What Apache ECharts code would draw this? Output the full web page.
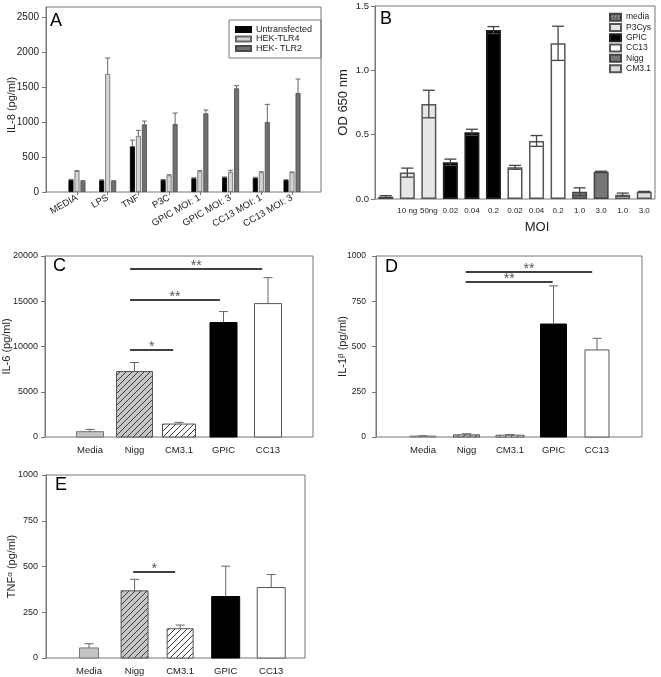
<!DOCTYPE html>
<html><head><meta charset="utf-8">
<script src="https://cdn.jsdelivr.net/npm/echarts@6/dist/echarts.min.js"></script>
<style>html,body{margin:0;padding:0;background:#fff}#c{width:661px;height:677px}</style>
</head><body><div id="c"></div>
<script>
// ================= DATA =================
// Panel A
const catsA = ['MEDIA','LPS','TNF','P3C','GPIC MOI: 1','GPIC MOI: 3','CC13 MOI: 1','CC13 MOI: 3'];
const untransfected    = [171, 167, 652, 171, 195, 210, 200, 171];
const untransfectedErr = [10, 8, 90, 8, 8, 5, 10, 5];
const hekTlr4    = [300, 1686, 800, 238, 295, 286, 281, 281];
const hekTlr4Err = [5, 228, 81, 8, 10, 24, 8, 5];
const hekTlr2    = [157, 157, 965, 971, 1124, 1481, 1000, 1414];
const hekTlr2Err = [5, 5, 48, 157, 48, 38, 252, 200];
const ticksA = [0, 500, 1000, 1500, 2000, 2500];
const maxA = 2643;

// Panel B
const catsB = ['', '10 ng', '50ng', '0.02', '0.04', '0.2', '0.02', '0.04', '0.2', '1.0', '3.0', '1.0', '3.0'];
const groupsB = ['media', 'P3Cys', 'GPIC', 'CC13', 'Nigg', 'CM3.1'];
const groupOfB = [0, 1, 1, 2, 2, 2, 3, 3, 3, 4, 4, 5, 5];
const odB    = [0.018, 0.205, 0.738, 0.285, 0.518, 1.313, 0.246, 0.451, 1.210, 0.057, 0.212, 0.034, 0.057];
const odBErr = [0.008, 0.035, 0.107, 0.025, 0.024, 0.027, 0.015, 0.042, 0.133, 0.030, 0.004, 0.012, 0.002];
const ticksB = [0, 0.5, 1.0, 1.5];

// Panels C, D, E
const catsCDE = ['Media', 'Nigg', 'CM3.1', 'GPIC', 'CC13'];
const il6    = [590, 7240, 1430, 12650, 14740];
const il6Err = [250, 990, 190, 1210, 2870];
const ticksC = [0, 5000, 10000, 15000, 20000];
const il1b    = [5, 12, 10, 624, 481];
const il1bErr = [2, 6, 4, 211, 64];
const ticksD = [0, 250, 500, 750, 1000];
const tnfa    = [55, 367, 160, 336, 385];
const tnfaErr = [23, 63, 20, 166, 71];
const ticksE = [0, 250, 500, 750, 1000];

// significance annotations (category-index positions, value level)
const sigC = [{from: 0.9, to: 3.87, y: 18560, text: '**'}, {from: 0.9, to: 2.92, y: 15140, text: '**'}, {from: 0.9, to: 1.87, y: 9610, text: '*'}];
const sigD = [{from: 0.98, to: 3.89, y: 912, text: '**'}, {from: 0.98, to: 2.98, y: 856, text: '**'}];
const sigE = [{from: 0.97, to: 1.89, y: 470, text: '*'}];

// ================= STYLE =================
const FONT = '"Liberation Sans", Arial, sans-serif';
const AX = '#777';
function hatch(bg, fg, s, lw) {
  const c = document.createElement('canvas'); c.width = s; c.height = s;
  const g = c.getContext('2d'); g.fillStyle = bg; g.fillRect(0, 0, s, s);
  g.strokeStyle = fg; g.lineWidth = lw || 1; g.beginPath();
  for (const o of [-s, 0, s]) { g.moveTo(o, s); g.lineTo(o + s, 0); }
  g.stroke(); return c;
}
function cross(bg, fg, s) {
  const c = document.createElement('canvas'); c.width = s; c.height = s;
  const g = c.getContext('2d'); g.fillStyle = bg; g.fillRect(0, 0, s, s);
  g.fillStyle = fg; g.fillRect(0, 0, 1, 1); g.fillRect(Math.floor(s/2), Math.floor(s/2), 1, 1);
  return c;
}
function pat(c) { return {type: 'pattern', image: c, repeat: 'repeat'}; }
const hatchGray = pat(hatch('#c6c6c6', '#3a3a3a', 6, 1));
const hatchWhite = pat(hatch('#ffffff', '#3a3a3a', 6, 1));
const crossDark = pat(cross('#858585', '#333', 3));

const stylesCDE = [
  {fill: '#c4c4c4', stroke: '#777'},
  {fill: hatchGray, stroke: '#555'},
  {fill: hatchWhite, stroke: '#555'},
  {fill: '#000', stroke: '#000'},
  {fill: '#fff', stroke: '#555'}
];
const widthC = [27, 36, 33, 27, 27];
const widthD = [26, 26, 28, 26, 24];
const widthE = [19, 27, 26, 28, 28];

const groupStyleB = [
  {color: crossDark, borderColor: '#444'},
  {color: '#e6e6e6', borderColor: '#555'},
  {color: '#000', borderColor: '#222'},
  {color: '#fff', borderColor: '#555'},
  {color: '#777', borderColor: '#444'},
  {color: '#dcdcdc', borderColor: '#555'}
];

// ================= HELPERS =================
function frameGrid(l, t, r, b) {
  return {left: l, top: t, right: r, bottom: b, show: true, borderColor: AX, borderWidth: 1, backgroundColor: 'transparent', containLabel: false, outerBoundsMode: 'none'};
}
function innerGrid(l, t, r, b) {
  return {left: l, top: t, right: r, bottom: b, show: false, containLabel: false, outerBoundsMode: 'none'};
}
function yFrame(gi, max, ticks, fmt, name, gap, nts, margin, fs) {
  return {
    gridIndex: gi, type: 'value', min: 0, max: max, interval: ticks[1] - ticks[0],
    axisLine: {show: true, lineStyle: {color: AX}},
    axisTick: {show: true, length: 4, lineStyle: {color: AX}, customValues: ticks},
    axisLabel: {customValues: ticks, formatter: fmt, fontSize: fs || 10, color: '#222', fontFamily: FONT, margin: margin || 7, showMaxLabel: true},
    splitLine: {show: false},
    name: name, nameLocation: 'middle', nameGap: gap, nameMoveOverlap: false,
    nameTextStyle: Object.assign({fontSize: 11, color: '#222', fontFamily: FONT}, nts || {})
  };
}
function yHidden(gi, max) { return {gridIndex: gi, type: 'value', min: 0, max: max, show: false}; }
function xHidden(gi) { return {gridIndex: gi, type: 'value', min: 0, max: 1, show: false}; }
function xCat(gi, cats, extra) {
  return Object.assign({
    gridIndex: gi, type: 'category', data: cats, boundaryGap: true,
    axisLine: {show: false}, axisTick: {show: false},
    axisLabel: {interval: 0, fontSize: 9.5, color: '#222', fontFamily: FONT, margin: 8},
    splitLine: {show: false}
  }, extra || {});
}
function barRender(widths, styles) {
  return function (params, api) {
    const i = api.value(0), v = api.value(1);
    const top = api.coord([i, v]), base = api.coord([i, 0]);
    const w = widths[i], st = styles[i];
    return {type: 'rect', shape: {x: top[0] - w / 2, y: top[1], width: w, height: base[1] - top[1]},
      style: {fill: st.fill, stroke: st.stroke, lineWidth: 1}};
  };
}
function errRender(offset, cap, both, color, lw) {
  return function (params, api) {
    const i = api.value(0), v = api.value(1), e = api.value(2);
    const c = api.coord([i, v]), hi = api.coord([i, v + e]), lo = api.coord([i, v - e]);
    const x = c[0] + offset;
    const st = {stroke: color, lineWidth: lw, fill: null};
    const ch = [
      {type: 'line', shape: {x1: x, y1: both ? lo[1] : c[1], x2: x, y2: hi[1]}, style: st},
      {type: 'line', shape: {x1: x - cap / 2, y1: hi[1], x2: x + cap / 2, y2: hi[1]}, style: st}
    ];
    if (both) ch.push({type: 'line', shape: {x1: x - cap / 2, y1: lo[1], x2: x + cap / 2, y2: lo[1]}, style: st});
    return {type: 'group', children: ch};
  };
}
function sigRender(list) {
  return function (params, api) {
    const s = list[params.dataIndex];
    const p0 = api.coord([0, s.y]);
    const bw = api.size([1, 0])[0];
    const x1 = p0[0] + s.from * bw, x2 = p0[0] + s.to * bw, y = p0[1];
    return {type: 'group', children: [
      {type: 'line', shape: {x1: x1, y1: y, x2: x2, y2: y}, style: {stroke: '#000', lineWidth: 1.5}},
      {type: 'text', x: (x1 + x2) / 2, y: y + 4, style: {text: s.text, fill: '#555', font: '14px ' + FONT, align: 'center', verticalAlign: 'bottom'}}
    ]};
  };
}
function panelCDE(gi, vals, errs, widths, sig) {
  const d = vals.map((v, i) => [i, v, errs[i]]);
  return [
    {type: 'custom', xAxisIndex: gi, yAxisIndex: gi, data: d, renderItem: barRender(widths, stylesCDE), z: 2, silent: true},
    {type: 'custom', xAxisIndex: gi, yAxisIndex: gi, data: d, renderItem: errRender(0, 9, false, '#666', 1), z: 3, silent: true},
    {type: 'custom', xAxisIndex: gi, yAxisIndex: gi, data: sig.map(s => [0, s.y]), renderItem: sigRender(sig), z: 4, silent: true}
  ];
}

// ================= OPTION =================
const grids = [
  frameGrid(46, 7, 340, 485),        // 0 A frame
  innerGrid(61.6, 7, 353.6, 485),    // 1 A inner
  frameGrid(375, 6, 6, 478),         // 2 B
  frameGrid(45, 256, 348, 240),      // 3 C frame
  innerGrid(67.75, 256, 370.75, 240),// 4 C inner
  frameGrid(376, 256, 19, 240),      // 5 D frame
  innerGrid(401.25, 256, 42.25, 240),// 6 D inner
  frameGrid(46, 475, 356, 19),       // 7 E frame
  innerGrid(66.25, 475, 367, 19)     // 8 E inner
];

const xAxes = [
  xHidden(0),
  xCat(1, catsA, {axisTick: {show: true, alignWithLabel: true, length: 3, lineStyle: {color: AX}},
    axisLabel: {interval: 0, rotate: 30, fontSize: 9.5, color: '#222', fontFamily: FONT, margin: 5}}),
  xCat(2, catsB, {axisLabel: {interval: 0, fontSize: 8, color: '#222', fontFamily: FONT, margin: 8},
    name: 'MOI', nameLocation: 'middle', nameGap: 22, nameTextStyle: {fontSize: 13, color: '#222', fontFamily: FONT, padding: [0, 0, 0, 44]}}),
  xHidden(3),
  xCat(4, catsCDE),
  xHidden(5),
  xCat(6, catsCDE),
  xHidden(7),
  xCat(8, catsCDE)
];

const yAxes = [
  yFrame(0, maxA, ticksA, v => String(v), 'IL-8 (pg/ml)', 29, {padding: [0, 11, 0, 0]}),
  yHidden(1, maxA),
  yFrame(2, 1.5, ticksB, v => v.toFixed(1), 'OD 650 nm', 25.5, {fontSize: 13}, 6, 9.5),
  yFrame(3, 20000, ticksC, v => String(v), 'IL-6 (pg/ml)', 33, null, 7, 9),
  yHidden(4, 20000),
  yFrame(5, 1000, ticksD, v => String(v), 'IL-1{s|β} (pg/ml)', 26.5, {rich: {s: {fontSize: 8, padding: [0, 0, 5, 0], fontFamily: FONT, color: '#222'}}}, 10, 8.5),
  yHidden(6, 1000),
  yFrame(7, 1000, ticksE, v => String(v), 'TNF{s|α} (pg/ml)', 27.5, {rich: {s: {fontSize: 8, padding: [0, 0, 5, 0], fontFamily: FONT, color: '#222'}}}, 8, 9),
  yHidden(8, 1000)
];

const series = [];
// Panel A bars
const aSeries = [
  {name: 'Untransfected', data: untransfected, err: untransfectedErr, color: '#000', border: '#000'},
  {name: 'HEK-TLR4', data: hekTlr4, err: hekTlr4Err, color: '#d4d4d4', border: '#666'},
  {name: 'HEK- TLR2', data: hekTlr2, err: hekTlr2Err, color: '#707070', border: '#4a4a4a'}
];
const aOffsets = [-6, 0, 6];
aSeries.forEach((s, k) => {
  series.push({type: 'bar', name: s.name, xAxisIndex: 1, yAxisIndex: 1, data: s.data, barWidth: 5, barGap: '20%',
    itemStyle: {color: s.color, borderColor: s.border, borderWidth: 0.8}, silent: true});
});
aSeries.forEach((s, k) => {
  series.push({type: 'custom', xAxisIndex: 1, yAxisIndex: 1, data: s.data.map((v, i) => [i, v, s.err[i]]),
    renderItem: errRender(aOffsets[k], 5, false, '#666', 1), z: 3, silent: true});
});
// Panel B bars
groupsB.forEach((g, k) => {
  series.push({type: 'bar', name: g, xAxisIndex: 2, yAxisIndex: 2, barWidth: 15, barGap: '-100%',
    data: odB.map((v, i) => groupOfB[i] === k ? v : '-'),
    itemStyle: {color: groupStyleB[k].color, borderColor: groupStyleB[k].borderColor, borderWidth: 1.5}, silent: true});
});
series.push({type: 'custom', xAxisIndex: 2, yAxisIndex: 2, data: odB.map((v, i) => [i, v, odBErr[i]]),
  renderItem: errRender(0, 12, true, '#444', 1.3), z: 3, silent: true});
// Panels C, D, E
series.push(...panelCDE(4, il6, il6Err, widthC, sigC));
series.push(...panelCDE(6, il1b, il1bErr, widthD, sigD));
series.push(...panelCDE(8, tnfa, tnfaErr, widthE, sigE));

const letters = [['A', 50, 12], ['B', 380, 10], ['C', 53, 257], ['D', 385, 258.5], ['E', 55, 476.5]];

const option = {
  animation: false,
  backgroundColor: '#fff',
  textStyle: {fontFamily: FONT},
  grid: grids, xAxis: xAxes, yAxis: yAxes, series: series,
  legend: [
    {data: aSeries.map(s => s.name), orient: 'vertical', left: 229, top: 20, padding: [5, 9, 5, 6],
      itemWidth: 15, itemHeight: 5, itemGap: 0.5, icon: 'rect', borderColor: AX, borderWidth: 1,
      textStyle: {fontSize: 9, lineHeight: 8.5, color: '#222', fontFamily: FONT}, selectedMode: false},
    {data: groupsB, orient: 'vertical', left: 609, top: 12, padding: 0,
      itemWidth: 11, itemHeight: 7, itemGap: 0, icon: 'rect',
      textStyle: {fontSize: 8.5, lineHeight: 10.3, color: '#222', fontFamily: FONT}, selectedMode: false}
  ],
  graphic: letters.map(l => ({type: 'text', x: l[1], y: l[2], silent: true,
    style: {text: l[0], font: '18px ' + FONT, fill: '#000', align: 'left', verticalAlign: 'top'}}))
};

const chart = echarts.init(document.getElementById('c'), null, {renderer: 'canvas', width: 661, height: 677});
chart.setOption(option);
</script>
</body></html>
